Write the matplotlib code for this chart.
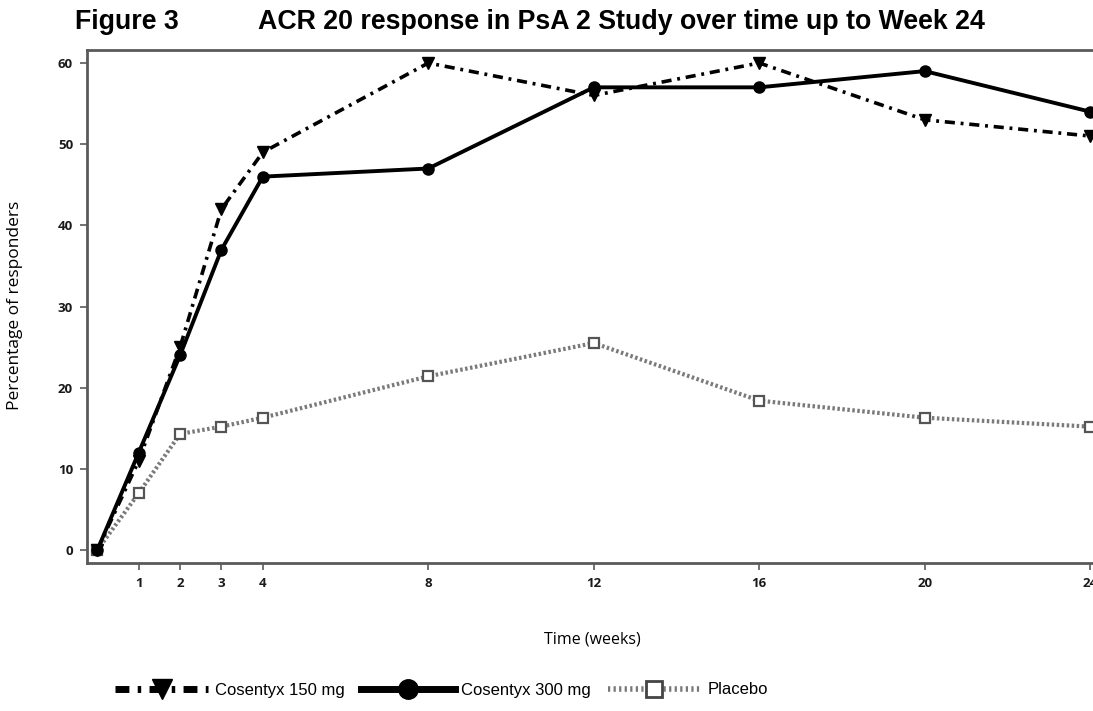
import matplotlib
matplotlib.use("Agg")
import matplotlib.pyplot as plt
from matplotlib.lines import Line2D

# data
weeks = [0, 1, 2, 3, 4, 8, 12, 16, 20, 24]
cos150 = [0, 11, 25, 42, 49, 60, 56, 60, 53, 51]
cos300 = [0, 12, 24, 37, 46, 47, 57, 57, 59, 54]
placebo = [0, 7, 14.3, 15.2, 16.3, 21.4, 25.5, 18.4, 16.3, 15.2]
xticks = [1, 2, 3, 4, 8, 12, 16, 20, 24]
yticks = [0, 10, 20, 30, 40, 50, 60]
labels = ["Cosentyx 150 mg", "Cosentyx 300 mg", "Placebo"]

arial = ["Liberation Sans", "DejaVu Sans"]
body = ["Open Sans", "DejaVu Sans"]
grey = "#5a5a5a"

fig = plt.figure(figsize=(10.93, 7.11), dpi=100)
ax = fig.add_axes([87 / 1093, 1 - 563 / 711, 1 - 87 / 1093 + 0.002, (563 - 50) / 711])

ax.plot(weeks, placebo, linestyle=(0, (0.6, 0.6)), color="#7a7a7a", lw=3.0,
        marker="s", ms=7.5, mfc="white", mec="#555555", mew=1.6, zorder=2)
ax.plot(weeks, cos300, linestyle="-", color="black", lw=2.8,
        marker="o", ms=8, zorder=3)
ax.plot(weeks, cos150, linestyle=(0, (2.8, 1.6, 0.8, 1.6)), color="black", lw=2.6,
        marker="v", ms=9, zorder=4)

ax.set_xlim(-0.25, 24.12)
ax.set_ylim(-1.6, 61.6)
ax.set_xticks(xticks)
ax.set_yticks(yticks)
for s in ["left", "bottom", "top"]:
    ax.spines[s].set_color(grey)
    ax.spines[s].set_linewidth(2)
ax.spines["right"].set_visible(False)
ax.tick_params(axis="both", colors=grey, length=5, width=1.2, direction="out",
               labelsize=9.5, labelcolor="#1a1a1a", pad=5)
for lab in ax.get_xticklabels() + ax.get_yticklabels():
    lab.set_fontfamily(body)
    lab.set_fontweight("bold")

fig.text(15 / 1093, 1 - 305 / 711, "Percentage of responders", rotation=90,
         ha="center", va="center", fontsize=12.5, family=body)
fig.text(592 / 1093, 1 - 640 / 711, "Time (weeks)", ha="center", va="center",
         fontsize=11.5, family=body)

fig.text(75 / 1093, 1 - 22 / 711, "Figure 3", ha="left", va="center",
         fontsize=19.3, fontweight="bold", family=arial)
fig.text(258 / 1093, 1 - 22 / 711, "ACR 20 response in PsA 2 Study over time up to Week 24",
         ha="left", va="center", fontsize=19.3, fontweight="bold", family=arial)

handles = [
    Line2D([], [], color="black", lw=5, linestyle=(0, (2, 1.2, 0.5, 1.2)),
           marker="v", ms=14),
    Line2D([], [], color="black", lw=5, linestyle="-", marker="o", ms=14),
    Line2D([], [], color="#777777", lw=4, linestyle=(0, (0.4, 0.6)),
           marker="s", ms=12, mfc="white", mec="#444444", mew=2),
]
leg = fig.legend(handles, labels, loc="center left", bbox_to_anchor=(115 / 1093, 1 - 690 / 711),
                 ncol=3, frameon=False, handlelength=5.6, handletextpad=0.4,
                 columnspacing=1.0, borderaxespad=0, borderpad=0,
                 prop={"family": arial, "size": 12})

fig.savefig("out.png", dpi=100)
